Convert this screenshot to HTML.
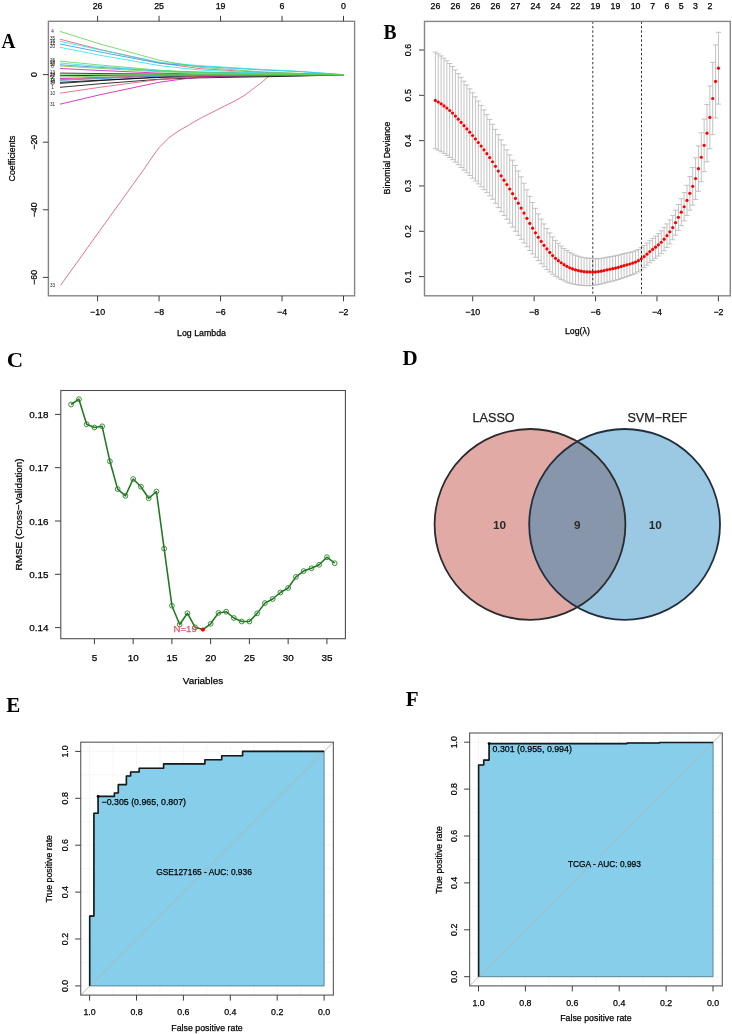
<!DOCTYPE html>
<html><head><meta charset="utf-8"><style>
html,body{margin:0;padding:0;background:#fff;}
body{width:732px;height:1034px;overflow:hidden;font-family:"Liberation Sans",sans-serif;}
svg{display:block;will-change:transform;}
</style></head><body>
<svg width="732" height="1034" viewBox="0 0 732 1034" font-family="Liberation Sans, sans-serif">
<rect width="732" height="1034" fill="#fff"/>
<text transform="translate(1.40 47.80) scale(0.92 1)" font-size="21" font-weight="bold" font-family="Liberation Serif" fill="#000">A</text>
<rect x="48.40" y="21.30" width="306.20" height="274.50" stroke="#858585" stroke-width="1.4" fill="none"/>
<line x1="97.58" y1="295.80" x2="97.58" y2="301.30" stroke="#3c3c3c" stroke-width="1"/>
<text x="97.58" y="312.00" font-size="8.8" text-anchor="middle" fill="#000" font-weight="normal" font-family="Liberation Sans" dominant-baseline="central" stroke="#000" stroke-width="0.25">−10</text>
<line x1="159.06" y1="295.80" x2="159.06" y2="301.30" stroke="#3c3c3c" stroke-width="1"/>
<text x="159.06" y="312.00" font-size="8.8" text-anchor="middle" fill="#000" font-weight="normal" font-family="Liberation Sans" dominant-baseline="central" stroke="#000" stroke-width="0.25">−8</text>
<line x1="220.54" y1="295.80" x2="220.54" y2="301.30" stroke="#3c3c3c" stroke-width="1"/>
<text x="220.54" y="312.00" font-size="8.8" text-anchor="middle" fill="#000" font-weight="normal" font-family="Liberation Sans" dominant-baseline="central" stroke="#000" stroke-width="0.25">−6</text>
<line x1="282.02" y1="295.80" x2="282.02" y2="301.30" stroke="#3c3c3c" stroke-width="1"/>
<text x="282.02" y="312.00" font-size="8.8" text-anchor="middle" fill="#000" font-weight="normal" font-family="Liberation Sans" dominant-baseline="central" stroke="#000" stroke-width="0.25">−4</text>
<line x1="343.50" y1="295.80" x2="343.50" y2="301.30" stroke="#3c3c3c" stroke-width="1"/>
<text x="343.50" y="312.00" font-size="8.8" text-anchor="middle" fill="#000" font-weight="normal" font-family="Liberation Sans" dominant-baseline="central" stroke="#000" stroke-width="0.25">−2</text>
<line x1="97.58" y1="21.30" x2="97.58" y2="15.80" stroke="#3c3c3c" stroke-width="1"/>
<text x="97.58" y="6.00" font-size="8.8" text-anchor="middle" fill="#000" font-weight="normal" font-family="Liberation Sans" dominant-baseline="central" stroke="#000" stroke-width="0.25">26</text>
<line x1="159.06" y1="21.30" x2="159.06" y2="15.80" stroke="#3c3c3c" stroke-width="1"/>
<text x="159.06" y="6.00" font-size="8.8" text-anchor="middle" fill="#000" font-weight="normal" font-family="Liberation Sans" dominant-baseline="central" stroke="#000" stroke-width="0.25">25</text>
<line x1="220.54" y1="21.30" x2="220.54" y2="15.80" stroke="#3c3c3c" stroke-width="1"/>
<text x="220.54" y="6.00" font-size="8.8" text-anchor="middle" fill="#000" font-weight="normal" font-family="Liberation Sans" dominant-baseline="central" stroke="#000" stroke-width="0.25">19</text>
<line x1="282.02" y1="21.30" x2="282.02" y2="15.80" stroke="#3c3c3c" stroke-width="1"/>
<text x="282.02" y="6.00" font-size="8.8" text-anchor="middle" fill="#000" font-weight="normal" font-family="Liberation Sans" dominant-baseline="central" stroke="#000" stroke-width="0.25">6</text>
<line x1="343.50" y1="21.30" x2="343.50" y2="15.80" stroke="#3c3c3c" stroke-width="1"/>
<text x="343.50" y="6.00" font-size="8.8" text-anchor="middle" fill="#000" font-weight="normal" font-family="Liberation Sans" dominant-baseline="central" stroke="#000" stroke-width="0.25">0</text>
<line x1="48.40" y1="74.60" x2="42.90" y2="74.60" stroke="#3c3c3c" stroke-width="1"/>
<text x="33.60" y="74.60" font-size="8.8" text-anchor="middle" fill="#000" font-weight="normal" font-family="Liberation Sans" dominant-baseline="central" stroke="#000" stroke-width="0.25" transform="rotate(-90 33.60 74.60)">0</text>
<line x1="48.40" y1="142.20" x2="42.90" y2="142.20" stroke="#3c3c3c" stroke-width="1"/>
<text x="33.60" y="142.20" font-size="8.8" text-anchor="middle" fill="#000" font-weight="normal" font-family="Liberation Sans" dominant-baseline="central" stroke="#000" stroke-width="0.25" transform="rotate(-90 33.60 142.20)">−20</text>
<line x1="48.40" y1="209.80" x2="42.90" y2="209.80" stroke="#3c3c3c" stroke-width="1"/>
<text x="33.60" y="209.80" font-size="8.8" text-anchor="middle" fill="#000" font-weight="normal" font-family="Liberation Sans" dominant-baseline="central" stroke="#000" stroke-width="0.25" transform="rotate(-90 33.60 209.80)">−40</text>
<line x1="48.40" y1="277.40" x2="42.90" y2="277.40" stroke="#3c3c3c" stroke-width="1"/>
<text x="33.60" y="277.40" font-size="8.8" text-anchor="middle" fill="#000" font-weight="normal" font-family="Liberation Sans" dominant-baseline="central" stroke="#000" stroke-width="0.25" transform="rotate(-90 33.60 277.40)">−60</text>
<text x="11.60" y="158.50" font-size="8.8" text-anchor="middle" fill="#000" font-weight="normal" font-family="Liberation Sans" dominant-baseline="central" stroke="#000" stroke-width="0.25" transform="rotate(-90 11.60 158.50)">Coefficients</text>
<text x="201.50" y="332.80" font-size="8.8" text-anchor="middle" fill="#000" font-weight="normal" font-family="Liberation Sans" dominant-baseline="central" stroke="#000" stroke-width="0.25">Log Lambda</text>
<polyline points="60.50,285.40 143.80,169.40 151.50,158.00 159.10,147.50 168.70,137.90 178.20,131.20 189.70,124.50 201.20,117.80 212.70,112.10 224.10,106.30 235.60,100.60 245.20,94.90 252.80,89.10 260.50,83.40 269.10,76.00 272.00,74.90 300.00,74.80" stroke="#DF536B" stroke-width="0.8" fill="none" stroke-linejoin="round"/>
<polyline points="60.00,73.10 100.00,73.56 160.00,74.17 200.00,74.43 260.00,74.59 300.00,74.65 343.50,74.70" stroke="#000000" stroke-width="0.8" fill="none" stroke-linejoin="round"/>
<polyline points="60.00,75.70 100.00,75.38 160.00,74.95 200.00,74.77 260.00,74.72 300.00,74.71 343.50,74.70" stroke="#000000" stroke-width="0.8" fill="none" stroke-linejoin="round"/>
<polyline points="60.00,82.30 100.00,80.17 160.00,77.44 200.00,76.60 260.00,75.99 300.00,75.54 343.50,74.70" stroke="#000000" stroke-width="0.8" fill="none" stroke-linejoin="round"/>
<polyline points="60.00,83.40 100.00,80.62 160.00,76.88 200.00,75.31 260.00,74.87 300.00,74.79 343.50,74.70" stroke="#000000" stroke-width="0.8" fill="none" stroke-linejoin="round"/>
<polyline points="60.00,87.30 100.00,83.77 160.00,79.24 200.00,77.85 260.00,76.84 300.00,76.09 343.50,74.70" stroke="#000000" stroke-width="0.8" fill="none" stroke-linejoin="round"/>
<polyline points="60.00,68.50 100.00,70.48 160.00,73.15 200.00,74.27 260.00,74.58 300.00,74.64 343.50,74.70" stroke="#CD0BBC" stroke-width="0.8" fill="none" stroke-linejoin="round"/>
<polyline points="60.00,78.60 100.00,77.35 160.00,75.67 200.00,74.97 260.00,74.78 300.00,74.74 343.50,74.70" stroke="#CD0BBC" stroke-width="0.8" fill="none" stroke-linejoin="round"/>
<polyline points="60.00,104.20 100.00,94.76 160.00,82.08 200.00,76.77 260.00,75.29 300.00,75.00 343.50,74.70" stroke="#CD0BBC" stroke-width="0.8" fill="none" stroke-linejoin="round"/>
<polyline points="60.00,39.20 100.00,49.50 160.00,62.98 200.00,68.67 260.00,72.22 300.00,73.64 343.50,74.70" stroke="#DF536B" stroke-width="0.8" fill="none" stroke-linejoin="round"/>
<polyline points="60.00,79.60 100.00,78.03 160.00,75.92 200.00,75.04 260.00,74.80 300.00,74.75 343.50,74.70" stroke="#DF536B" stroke-width="0.8" fill="none" stroke-linejoin="round"/>
<polyline points="60.00,93.20 100.00,87.28 160.00,79.33 200.00,76.00 260.00,75.07 300.00,74.89 343.50,74.70" stroke="#DF536B" stroke-width="0.8" fill="none" stroke-linejoin="round"/>
<polyline points="60.00,44.00 100.00,51.98 160.00,63.34 200.00,66.41 260.00,69.79 300.00,71.63 343.50,74.70" stroke="#2297E6" stroke-width="0.8" fill="none" stroke-linejoin="round"/>
<polyline points="60.00,64.80 100.00,67.37 160.00,71.04 200.00,72.03 260.00,73.12 300.00,73.71 343.50,74.70" stroke="#2297E6" stroke-width="0.8" fill="none" stroke-linejoin="round"/>
<polyline points="60.00,80.40 100.00,78.58 160.00,76.12 200.00,75.10 260.00,74.81 300.00,74.76 343.50,74.70" stroke="#2297E6" stroke-width="0.8" fill="none" stroke-linejoin="round"/>
<polyline points="60.00,41.20 100.00,49.91 160.00,62.31 200.00,65.66 260.00,69.34 300.00,71.35 343.50,74.70" stroke="#28E2E5" stroke-width="0.8" fill="none" stroke-linejoin="round"/>
<polyline points="60.00,47.30 100.00,55.25 160.00,65.66 200.00,70.04 260.00,72.78 300.00,73.88 343.50,74.70" stroke="#28E2E5" stroke-width="0.8" fill="none" stroke-linejoin="round"/>
<polyline points="60.00,63.00 100.00,66.39 160.00,70.84 200.00,72.71 260.00,73.88 300.00,74.35 343.50,74.70" stroke="#28E2E5" stroke-width="0.8" fill="none" stroke-linejoin="round"/>
<polyline points="60.00,31.40 100.00,43.96 160.00,60.41 200.00,67.34 260.00,71.67 300.00,73.40 343.50,74.70" stroke="#61D04F" stroke-width="0.8" fill="none" stroke-linejoin="round"/>
<polyline points="60.00,61.10 100.00,65.04 160.00,70.21 200.00,72.39 260.00,73.75 300.00,74.29 343.50,74.70" stroke="#61D04F" stroke-width="0.8" fill="none" stroke-linejoin="round"/>
<polyline points="60.00,65.90 100.00,68.45 160.00,71.80 200.00,73.20 260.00,74.08 300.00,74.44 343.50,74.70" stroke="#61D04F" stroke-width="0.8" fill="none" stroke-linejoin="round"/>
<polyline points="60.00,74.20 100.00,74.34 160.00,74.53 200.00,74.62 260.00,74.67 300.00,74.69 343.50,74.70" stroke="#61D04F" stroke-width="0.8" fill="none" stroke-linejoin="round"/>
<polyline points="60.00,77.00 100.00,76.26 160.00,75.28 200.00,74.86 260.00,74.75 300.00,74.72 343.50,74.70" stroke="#61D04F" stroke-width="0.8" fill="none" stroke-linejoin="round"/>
<text x="52.60" y="31.40" font-size="4.6" text-anchor="middle" fill="#222" font-weight="normal" font-family="Liberation Sans" dominant-baseline="central">4</text>
<text x="52.60" y="38.50" font-size="4.6" text-anchor="middle" fill="#222" font-weight="normal" font-family="Liberation Sans" dominant-baseline="central">35</text>
<text x="52.60" y="41.00" font-size="4.6" text-anchor="middle" fill="#222" font-weight="normal" font-family="Liberation Sans" dominant-baseline="central">16</text>
<text x="52.60" y="43.50" font-size="4.6" text-anchor="middle" fill="#222" font-weight="normal" font-family="Liberation Sans" dominant-baseline="central">12</text>
<text x="52.60" y="46.50" font-size="4.6" text-anchor="middle" fill="#222" font-weight="normal" font-family="Liberation Sans" dominant-baseline="central">20</text>
<text x="52.60" y="60.50" font-size="4.6" text-anchor="middle" fill="#222" font-weight="normal" font-family="Liberation Sans" dominant-baseline="central">26</text>
<text x="52.60" y="62.50" font-size="4.6" text-anchor="middle" fill="#222" font-weight="normal" font-family="Liberation Sans" dominant-baseline="central">28</text>
<text x="52.60" y="64.50" font-size="4.6" text-anchor="middle" fill="#222" font-weight="normal" font-family="Liberation Sans" dominant-baseline="central">30</text>
<text x="52.60" y="66.50" font-size="4.6" text-anchor="middle" fill="#222" font-weight="normal" font-family="Liberation Sans" dominant-baseline="central">8</text>
<text x="52.60" y="72.50" font-size="4.6" text-anchor="middle" fill="#222" font-weight="normal" font-family="Liberation Sans" dominant-baseline="central">13</text>
<text x="52.60" y="74.00" font-size="4.6" text-anchor="middle" fill="#222" font-weight="normal" font-family="Liberation Sans" dominant-baseline="central">24</text>
<text x="52.60" y="75.50" font-size="4.6" text-anchor="middle" fill="#222" font-weight="normal" font-family="Liberation Sans" dominant-baseline="central">22</text>
<text x="52.60" y="77.00" font-size="4.6" text-anchor="middle" fill="#222" font-weight="normal" font-family="Liberation Sans" dominant-baseline="central">2</text>
<text x="52.60" y="79.00" font-size="4.6" text-anchor="middle" fill="#222" font-weight="normal" font-family="Liberation Sans" dominant-baseline="central">6</text>
<text x="52.60" y="80.50" font-size="4.6" text-anchor="middle" fill="#222" font-weight="normal" font-family="Liberation Sans" dominant-baseline="central">14</text>
<text x="52.60" y="82.00" font-size="4.6" text-anchor="middle" fill="#222" font-weight="normal" font-family="Liberation Sans" dominant-baseline="central">34</text>
<text x="52.60" y="83.50" font-size="4.6" text-anchor="middle" fill="#222" font-weight="normal" font-family="Liberation Sans" dominant-baseline="central">5</text>
<text x="52.60" y="87.30" font-size="4.6" text-anchor="middle" fill="#222" font-weight="normal" font-family="Liberation Sans" dominant-baseline="central">1</text>
<text x="52.60" y="93.20" font-size="4.6" text-anchor="middle" fill="#222" font-weight="normal" font-family="Liberation Sans" dominant-baseline="central">10</text>
<text x="52.60" y="104.20" font-size="4.6" text-anchor="middle" fill="#222" font-weight="normal" font-family="Liberation Sans" dominant-baseline="central">31</text>
<text x="52.60" y="285.40" font-size="4.6" text-anchor="middle" fill="#222" font-weight="normal" font-family="Liberation Sans" dominant-baseline="central">33</text>
<text transform="translate(383.60 38.50) scale(0.93 1)" font-size="21" font-weight="bold" font-family="Liberation Serif" fill="#000">B</text>
<line x1="472.72" y1="295.80" x2="472.72" y2="301.30" stroke="#3c3c3c" stroke-width="1"/>
<text x="472.72" y="311.80" font-size="8.8" text-anchor="middle" fill="#000" font-weight="normal" font-family="Liberation Sans" dominant-baseline="central" stroke="#000" stroke-width="0.25">−10</text>
<line x1="534.14" y1="295.80" x2="534.14" y2="301.30" stroke="#3c3c3c" stroke-width="1"/>
<text x="534.14" y="311.80" font-size="8.8" text-anchor="middle" fill="#000" font-weight="normal" font-family="Liberation Sans" dominant-baseline="central" stroke="#000" stroke-width="0.25">−8</text>
<line x1="595.56" y1="295.80" x2="595.56" y2="301.30" stroke="#3c3c3c" stroke-width="1"/>
<text x="595.56" y="311.80" font-size="8.8" text-anchor="middle" fill="#000" font-weight="normal" font-family="Liberation Sans" dominant-baseline="central" stroke="#000" stroke-width="0.25">−6</text>
<line x1="656.98" y1="295.80" x2="656.98" y2="301.30" stroke="#3c3c3c" stroke-width="1"/>
<text x="656.98" y="311.80" font-size="8.8" text-anchor="middle" fill="#000" font-weight="normal" font-family="Liberation Sans" dominant-baseline="central" stroke="#000" stroke-width="0.25">−4</text>
<line x1="718.40" y1="295.80" x2="718.40" y2="301.30" stroke="#3c3c3c" stroke-width="1"/>
<text x="718.40" y="311.80" font-size="8.8" text-anchor="middle" fill="#000" font-weight="normal" font-family="Liberation Sans" dominant-baseline="central" stroke="#000" stroke-width="0.25">−2</text>
<line x1="424.50" y1="276.60" x2="419.00" y2="276.60" stroke="#3c3c3c" stroke-width="1"/>
<text x="408.00" y="276.60" font-size="8.8" text-anchor="middle" fill="#000" font-weight="normal" font-family="Liberation Sans" dominant-baseline="central" stroke="#000" stroke-width="0.25" transform="rotate(-90 408.00 276.60)">0.1</text>
<line x1="424.50" y1="231.28" x2="419.00" y2="231.28" stroke="#3c3c3c" stroke-width="1"/>
<text x="408.00" y="231.28" font-size="8.8" text-anchor="middle" fill="#000" font-weight="normal" font-family="Liberation Sans" dominant-baseline="central" stroke="#000" stroke-width="0.25" transform="rotate(-90 408.00 231.28)">0.2</text>
<line x1="424.50" y1="185.96" x2="419.00" y2="185.96" stroke="#3c3c3c" stroke-width="1"/>
<text x="408.00" y="185.96" font-size="8.8" text-anchor="middle" fill="#000" font-weight="normal" font-family="Liberation Sans" dominant-baseline="central" stroke="#000" stroke-width="0.25" transform="rotate(-90 408.00 185.96)">0.3</text>
<line x1="424.50" y1="140.64" x2="419.00" y2="140.64" stroke="#3c3c3c" stroke-width="1"/>
<text x="408.00" y="140.64" font-size="8.8" text-anchor="middle" fill="#000" font-weight="normal" font-family="Liberation Sans" dominant-baseline="central" stroke="#000" stroke-width="0.25" transform="rotate(-90 408.00 140.64)">0.4</text>
<line x1="424.50" y1="95.32" x2="419.00" y2="95.32" stroke="#3c3c3c" stroke-width="1"/>
<text x="408.00" y="95.32" font-size="8.8" text-anchor="middle" fill="#000" font-weight="normal" font-family="Liberation Sans" dominant-baseline="central" stroke="#000" stroke-width="0.25" transform="rotate(-90 408.00 95.32)">0.5</text>
<line x1="424.50" y1="50.00" x2="419.00" y2="50.00" stroke="#3c3c3c" stroke-width="1"/>
<text x="408.00" y="50.00" font-size="8.8" text-anchor="middle" fill="#000" font-weight="normal" font-family="Liberation Sans" dominant-baseline="central" stroke="#000" stroke-width="0.25" transform="rotate(-90 408.00 50.00)">0.6</text>
<text x="386.60" y="158.00" font-size="8.8" text-anchor="middle" fill="#000" font-weight="normal" font-family="Liberation Sans" dominant-baseline="central" stroke="#000" stroke-width="0.25" transform="rotate(-90 386.60 158.00)">Binomial Deviance</text>
<text x="577.40" y="330.70" font-size="8.8" text-anchor="middle" fill="#000" font-weight="normal" font-family="Liberation Sans" dominant-baseline="central" stroke="#000" stroke-width="0.25">Log(λ)</text>
<text x="435.40" y="6.20" font-size="8.8" text-anchor="middle" fill="#000" font-weight="normal" font-family="Liberation Sans" dominant-baseline="central" stroke="#000" stroke-width="0.25">26</text>
<text x="455.41" y="6.20" font-size="8.8" text-anchor="middle" fill="#000" font-weight="normal" font-family="Liberation Sans" dominant-baseline="central" stroke="#000" stroke-width="0.25">26</text>
<text x="475.43" y="6.20" font-size="8.8" text-anchor="middle" fill="#000" font-weight="normal" font-family="Liberation Sans" dominant-baseline="central" stroke="#000" stroke-width="0.25">26</text>
<text x="495.44" y="6.20" font-size="8.8" text-anchor="middle" fill="#000" font-weight="normal" font-family="Liberation Sans" dominant-baseline="central" stroke="#000" stroke-width="0.25">26</text>
<text x="515.45" y="6.20" font-size="8.8" text-anchor="middle" fill="#000" font-weight="normal" font-family="Liberation Sans" dominant-baseline="central" stroke="#000" stroke-width="0.25">27</text>
<text x="535.46" y="6.20" font-size="8.8" text-anchor="middle" fill="#000" font-weight="normal" font-family="Liberation Sans" dominant-baseline="central" stroke="#000" stroke-width="0.25">24</text>
<text x="555.48" y="6.20" font-size="8.8" text-anchor="middle" fill="#000" font-weight="normal" font-family="Liberation Sans" dominant-baseline="central" stroke="#000" stroke-width="0.25">24</text>
<text x="575.49" y="6.20" font-size="8.8" text-anchor="middle" fill="#000" font-weight="normal" font-family="Liberation Sans" dominant-baseline="central" stroke="#000" stroke-width="0.25">22</text>
<text x="595.50" y="6.20" font-size="8.8" text-anchor="middle" fill="#000" font-weight="normal" font-family="Liberation Sans" dominant-baseline="central" stroke="#000" stroke-width="0.25">19</text>
<text x="615.52" y="6.20" font-size="8.8" text-anchor="middle" fill="#000" font-weight="normal" font-family="Liberation Sans" dominant-baseline="central" stroke="#000" stroke-width="0.25">19</text>
<text x="635.53" y="6.20" font-size="8.8" text-anchor="middle" fill="#000" font-weight="normal" font-family="Liberation Sans" dominant-baseline="central" stroke="#000" stroke-width="0.25">10</text>
<text x="652.68" y="6.20" font-size="8.8" text-anchor="middle" fill="#000" font-weight="normal" font-family="Liberation Sans" dominant-baseline="central" stroke="#000" stroke-width="0.25">7</text>
<text x="666.98" y="6.20" font-size="8.8" text-anchor="middle" fill="#000" font-weight="normal" font-family="Liberation Sans" dominant-baseline="central" stroke="#000" stroke-width="0.25">6</text>
<text x="681.27" y="6.20" font-size="8.8" text-anchor="middle" fill="#000" font-weight="normal" font-family="Liberation Sans" dominant-baseline="central" stroke="#000" stroke-width="0.25">5</text>
<text x="695.57" y="6.20" font-size="8.8" text-anchor="middle" fill="#000" font-weight="normal" font-family="Liberation Sans" dominant-baseline="central" stroke="#000" stroke-width="0.25">3</text>
<text x="709.86" y="6.20" font-size="8.8" text-anchor="middle" fill="#000" font-weight="normal" font-family="Liberation Sans" dominant-baseline="central" stroke="#000" stroke-width="0.25">2</text>
<path d="M435.40 52.05V148.75M432.80 52.05h5.2M432.80 148.75h5.2M438.26 53.86V150.19M435.66 53.86h5.2M435.66 150.19h5.2M441.12 55.94V151.79M438.52 55.94h5.2M438.52 151.79h5.2M443.98 58.26V153.55M441.38 58.26h5.2M441.38 153.55h5.2M446.84 60.79V155.45M444.24 60.79h5.2M444.24 155.45h5.2M449.69 63.49V157.47M447.09 63.49h5.2M447.09 157.47h5.2M452.55 66.53V159.70M449.95 66.53h5.2M449.95 159.70h5.2M455.41 69.95V162.18M452.81 69.95h5.2M452.81 162.18h5.2M458.27 73.63V164.81M455.67 73.63h5.2M455.67 164.81h5.2M461.13 77.43V167.51M458.53 77.43h5.2M458.53 167.51h5.2M463.99 81.22V170.18M461.39 81.22h5.2M461.39 170.18h5.2M466.85 84.99V172.84M464.25 84.99h5.2M464.25 172.84h5.2M469.71 88.83V175.53M467.11 88.83h5.2M467.11 175.53h5.2M472.57 92.77V178.27M469.97 92.77h5.2M469.97 178.27h5.2M475.43 96.83V181.07M472.83 96.83h5.2M472.83 181.07h5.2M478.28 101.03V183.93M475.68 101.03h5.2M475.68 183.93h5.2M481.14 105.40V186.80M478.54 105.40h5.2M478.54 186.80h5.2M484.00 109.94V189.67M481.40 109.94h5.2M481.40 189.67h5.2M486.86 114.63V192.64M484.26 114.63h5.2M484.26 192.64h5.2M489.72 119.41V195.80M487.12 119.41h5.2M487.12 195.80h5.2M492.58 124.27V199.27M489.98 124.27h5.2M489.98 199.27h5.2M495.44 129.34V203.27M492.84 129.34h5.2M492.84 203.27h5.2M498.30 134.63V207.60M495.70 134.63h5.2M495.70 207.60h5.2M501.16 139.84V211.78M498.56 139.84h5.2M498.56 211.78h5.2M504.02 144.86V215.58M501.42 144.86h5.2M501.42 215.58h5.2M506.88 149.85V219.27M504.27 149.85h5.2M504.27 219.27h5.2M509.73 154.95V223.07M507.13 154.95h5.2M507.13 223.07h5.2M512.59 160.18V227.11M509.99 160.18h5.2M509.99 227.11h5.2M515.45 165.49V231.26M512.85 165.49h5.2M512.85 231.26h5.2M518.31 170.99V235.39M515.71 170.99h5.2M515.71 235.39h5.2M521.17 176.85V239.28M518.57 176.85h5.2M518.57 239.28h5.2M524.03 183.22V243.00M521.43 183.22h5.2M521.43 243.00h5.2M526.89 189.81V246.76M524.29 189.81h5.2M524.29 246.76h5.2M529.75 196.25V250.52M527.15 196.25h5.2M527.15 250.52h5.2M532.61 202.44V253.97M530.01 202.44h5.2M530.01 253.97h5.2M535.46 208.33V257.26M532.86 208.33h5.2M532.86 257.26h5.2M538.32 213.89V260.58M535.72 213.89h5.2M535.72 260.58h5.2M541.18 219.09V263.79M538.58 219.09h5.2M538.58 263.79h5.2M544.04 223.92V266.73M541.44 223.92h5.2M541.44 266.73h5.2M546.90 228.50V269.44M544.30 228.50h5.2M544.30 269.44h5.2M549.76 232.91V271.97M547.16 232.91h5.2M547.16 271.97h5.2M552.62 236.94V274.26M550.02 236.94h5.2M550.02 274.26h5.2M555.48 240.37V276.26M552.88 240.37h5.2M552.88 276.26h5.2M558.34 243.32V277.96M555.74 243.32h5.2M555.74 277.96h5.2M561.20 246.01V279.54M558.60 246.01h5.2M558.60 279.54h5.2M564.05 248.42V280.96M561.45 248.42h5.2M561.45 280.96h5.2M566.91 250.53V282.18M564.31 250.53h5.2M564.31 282.18h5.2M569.77 252.32V283.15M567.17 252.32h5.2M567.17 283.15h5.2M572.63 253.85V283.93M570.03 253.85h5.2M570.03 283.93h5.2M575.49 255.18V284.53M572.89 255.18h5.2M572.89 284.53h5.2M578.35 256.23V284.95M575.75 256.23h5.2M575.75 284.95h5.2M581.21 257.05V285.29M578.61 257.05h5.2M578.61 285.29h5.2M584.07 257.69V285.59M581.47 257.69h5.2M581.47 285.59h5.2M586.93 258.09V285.70M584.33 258.09h5.2M584.33 285.70h5.2M589.79 258.30V285.63M587.19 258.30h5.2M587.19 285.63h5.2M592.64 258.53V285.47M590.04 258.53h5.2M590.04 285.47h5.2M595.50 258.72V285.08M592.90 258.72h5.2M592.90 285.08h5.2M598.36 258.66V284.49M595.76 258.66h5.2M595.76 284.49h5.2M601.22 258.38V283.95M598.62 258.38h5.2M598.62 283.95h5.2M604.08 257.86V283.26M601.48 257.86h5.2M601.48 283.26h5.2M606.94 257.25V282.47M604.34 257.25h5.2M604.34 282.47h5.2M609.80 256.77V281.76M607.20 256.77h5.2M607.20 281.76h5.2M612.66 256.32V281.07M610.06 256.32h5.2M610.06 281.07h5.2M615.52 255.81V280.33M612.92 255.81h5.2M612.92 280.33h5.2M618.38 255.13V279.49M615.78 255.13h5.2M615.78 279.49h5.2M621.24 254.35V278.56M618.63 254.35h5.2M618.63 278.56h5.2M624.09 253.58V277.60M621.49 253.58h5.2M621.49 277.60h5.2M626.95 252.96V276.62M624.35 252.96h5.2M624.35 276.62h5.2M629.81 252.43V275.57M627.21 252.43h5.2M627.21 275.57h5.2M632.67 251.75V274.48M630.07 251.75h5.2M630.07 274.48h5.2M635.53 250.79V273.29M632.93 250.79h5.2M632.93 273.29h5.2M638.39 249.56V271.86M635.79 249.56h5.2M635.79 271.86h5.2M641.25 247.73V269.89M638.65 247.73h5.2M638.65 269.89h5.2M644.11 245.54V267.64M641.51 245.54h5.2M641.51 267.64h5.2M646.97 243.12V265.22M644.37 243.12h5.2M644.37 265.22h5.2M649.83 240.66V262.76M647.23 240.66h5.2M647.23 262.76h5.2M652.68 238.40V260.50M650.08 238.40h5.2M650.08 260.50h5.2M655.54 236.11V258.32M652.94 236.11h5.2M652.94 258.32h5.2M658.40 233.59V256.07M655.80 233.59h5.2M655.80 256.07h5.2M661.26 230.84V253.63M658.66 230.84h5.2M658.66 253.63h5.2M664.12 227.59V250.76M661.52 227.59h5.2M661.52 250.76h5.2M666.98 223.88V247.48M664.38 223.88h5.2M664.38 247.48h5.2M669.84 219.88V243.82M667.24 219.88h5.2M667.24 243.82h5.2M672.70 215.41V239.75M670.10 215.41h5.2M670.10 239.75h5.2M675.56 210.18V235.16M672.96 210.18h5.2M672.96 235.16h5.2M678.41 204.45V230.30M675.81 204.45h5.2M675.81 230.30h5.2M681.27 198.78V225.66M678.67 198.78h5.2M678.67 225.66h5.2M684.13 192.67V220.85M681.53 192.67h5.2M681.53 220.85h5.2M686.99 185.27V215.49M684.39 185.27h5.2M684.39 215.49h5.2M689.85 176.57V210.17M687.25 176.57h5.2M687.25 210.17h5.2M692.71 167.52V205.21M690.11 167.52h5.2M690.11 205.21h5.2M695.57 157.75V199.46M692.97 157.75h5.2M692.97 199.46h5.2M698.43 145.96V191.31M695.83 145.96h5.2M695.83 191.31h5.2M701.29 132.76V181.74M698.69 132.76h5.2M698.69 181.74h5.2M704.15 119.06V171.64M701.55 119.06h5.2M701.55 171.64h5.2M707.00 104.55V161.83M704.40 104.55h5.2M704.40 161.83h5.2M709.86 86.04V148.84M707.26 86.04h5.2M707.26 148.84h5.2M712.72 62.40V134.65M710.12 62.40h5.2M710.12 134.65h5.2M715.58 44.91V117.91M712.98 44.91h5.2M712.98 117.91h5.2M718.44 32.30V104.11M715.84 32.30h5.2M715.84 104.11h5.2" stroke="#b4b4b4" stroke-width="0.8" fill="none"/>
<circle cx="435.40" cy="100.40" r="1.6" fill="#ff0000"/>
<circle cx="438.26" cy="102.02" r="1.6" fill="#ff0000"/>
<circle cx="441.12" cy="103.87" r="1.6" fill="#ff0000"/>
<circle cx="443.98" cy="105.91" r="1.6" fill="#ff0000"/>
<circle cx="446.84" cy="108.12" r="1.6" fill="#ff0000"/>
<circle cx="449.69" cy="110.48" r="1.6" fill="#ff0000"/>
<circle cx="452.55" cy="113.11" r="1.6" fill="#ff0000"/>
<circle cx="455.41" cy="116.06" r="1.6" fill="#ff0000"/>
<circle cx="458.27" cy="119.22" r="1.6" fill="#ff0000"/>
<circle cx="461.13" cy="122.47" r="1.6" fill="#ff0000"/>
<circle cx="463.99" cy="125.70" r="1.6" fill="#ff0000"/>
<circle cx="466.85" cy="128.91" r="1.6" fill="#ff0000"/>
<circle cx="469.71" cy="132.18" r="1.6" fill="#ff0000"/>
<circle cx="472.57" cy="135.52" r="1.6" fill="#ff0000"/>
<circle cx="475.43" cy="138.95" r="1.6" fill="#ff0000"/>
<circle cx="478.28" cy="142.48" r="1.6" fill="#ff0000"/>
<circle cx="481.14" cy="146.10" r="1.6" fill="#ff0000"/>
<circle cx="484.00" cy="149.81" r="1.6" fill="#ff0000"/>
<circle cx="486.86" cy="153.63" r="1.6" fill="#ff0000"/>
<circle cx="489.72" cy="157.61" r="1.6" fill="#ff0000"/>
<circle cx="492.58" cy="161.77" r="1.6" fill="#ff0000"/>
<circle cx="495.44" cy="166.30" r="1.6" fill="#ff0000"/>
<circle cx="498.30" cy="171.12" r="1.6" fill="#ff0000"/>
<circle cx="501.16" cy="175.81" r="1.6" fill="#ff0000"/>
<circle cx="504.02" cy="180.22" r="1.6" fill="#ff0000"/>
<circle cx="506.88" cy="184.56" r="1.6" fill="#ff0000"/>
<circle cx="509.73" cy="189.01" r="1.6" fill="#ff0000"/>
<circle cx="512.59" cy="193.64" r="1.6" fill="#ff0000"/>
<circle cx="515.45" cy="198.38" r="1.6" fill="#ff0000"/>
<circle cx="518.31" cy="203.19" r="1.6" fill="#ff0000"/>
<circle cx="521.17" cy="208.06" r="1.6" fill="#ff0000"/>
<circle cx="524.03" cy="213.11" r="1.6" fill="#ff0000"/>
<circle cx="526.89" cy="218.29" r="1.6" fill="#ff0000"/>
<circle cx="529.75" cy="223.38" r="1.6" fill="#ff0000"/>
<circle cx="532.61" cy="228.21" r="1.6" fill="#ff0000"/>
<circle cx="535.46" cy="232.79" r="1.6" fill="#ff0000"/>
<circle cx="538.32" cy="237.23" r="1.6" fill="#ff0000"/>
<circle cx="541.18" cy="241.44" r="1.6" fill="#ff0000"/>
<circle cx="544.04" cy="245.33" r="1.6" fill="#ff0000"/>
<circle cx="546.90" cy="248.97" r="1.6" fill="#ff0000"/>
<circle cx="549.76" cy="252.44" r="1.6" fill="#ff0000"/>
<circle cx="552.62" cy="255.60" r="1.6" fill="#ff0000"/>
<circle cx="555.48" cy="258.31" r="1.6" fill="#ff0000"/>
<circle cx="558.34" cy="260.64" r="1.6" fill="#ff0000"/>
<circle cx="561.20" cy="262.77" r="1.6" fill="#ff0000"/>
<circle cx="564.05" cy="264.69" r="1.6" fill="#ff0000"/>
<circle cx="566.91" cy="266.35" r="1.6" fill="#ff0000"/>
<circle cx="569.77" cy="267.73" r="1.6" fill="#ff0000"/>
<circle cx="572.63" cy="268.89" r="1.6" fill="#ff0000"/>
<circle cx="575.49" cy="269.86" r="1.6" fill="#ff0000"/>
<circle cx="578.35" cy="270.59" r="1.6" fill="#ff0000"/>
<circle cx="581.21" cy="271.17" r="1.6" fill="#ff0000"/>
<circle cx="584.07" cy="271.64" r="1.6" fill="#ff0000"/>
<circle cx="586.93" cy="271.89" r="1.6" fill="#ff0000"/>
<circle cx="589.79" cy="271.96" r="1.6" fill="#ff0000"/>
<circle cx="592.64" cy="272.00" r="1.6" fill="#ff0000"/>
<circle cx="595.50" cy="271.90" r="1.6" fill="#ff0000"/>
<circle cx="598.36" cy="271.58" r="1.6" fill="#ff0000"/>
<circle cx="601.22" cy="271.17" r="1.6" fill="#ff0000"/>
<circle cx="604.08" cy="270.56" r="1.6" fill="#ff0000"/>
<circle cx="606.94" cy="269.86" r="1.6" fill="#ff0000"/>
<circle cx="609.80" cy="269.26" r="1.6" fill="#ff0000"/>
<circle cx="612.66" cy="268.69" r="1.6" fill="#ff0000"/>
<circle cx="615.52" cy="268.07" r="1.6" fill="#ff0000"/>
<circle cx="618.38" cy="267.31" r="1.6" fill="#ff0000"/>
<circle cx="621.24" cy="266.45" r="1.6" fill="#ff0000"/>
<circle cx="624.09" cy="265.59" r="1.6" fill="#ff0000"/>
<circle cx="626.95" cy="264.79" r="1.6" fill="#ff0000"/>
<circle cx="629.81" cy="264.00" r="1.6" fill="#ff0000"/>
<circle cx="632.67" cy="263.11" r="1.6" fill="#ff0000"/>
<circle cx="635.53" cy="262.04" r="1.6" fill="#ff0000"/>
<circle cx="638.39" cy="260.71" r="1.6" fill="#ff0000"/>
<circle cx="641.25" cy="258.81" r="1.6" fill="#ff0000"/>
<circle cx="644.11" cy="256.59" r="1.6" fill="#ff0000"/>
<circle cx="646.97" cy="254.17" r="1.6" fill="#ff0000"/>
<circle cx="649.83" cy="251.71" r="1.6" fill="#ff0000"/>
<circle cx="652.68" cy="249.45" r="1.6" fill="#ff0000"/>
<circle cx="655.54" cy="247.21" r="1.6" fill="#ff0000"/>
<circle cx="658.40" cy="244.83" r="1.6" fill="#ff0000"/>
<circle cx="661.26" cy="242.24" r="1.6" fill="#ff0000"/>
<circle cx="664.12" cy="239.17" r="1.6" fill="#ff0000"/>
<circle cx="666.98" cy="235.68" r="1.6" fill="#ff0000"/>
<circle cx="669.84" cy="231.85" r="1.6" fill="#ff0000"/>
<circle cx="672.70" cy="227.58" r="1.6" fill="#ff0000"/>
<circle cx="675.56" cy="222.67" r="1.6" fill="#ff0000"/>
<circle cx="678.41" cy="217.37" r="1.6" fill="#ff0000"/>
<circle cx="681.27" cy="212.22" r="1.6" fill="#ff0000"/>
<circle cx="684.13" cy="206.76" r="1.6" fill="#ff0000"/>
<circle cx="686.99" cy="200.38" r="1.6" fill="#ff0000"/>
<circle cx="689.85" cy="193.37" r="1.6" fill="#ff0000"/>
<circle cx="692.71" cy="186.37" r="1.6" fill="#ff0000"/>
<circle cx="695.57" cy="178.60" r="1.6" fill="#ff0000"/>
<circle cx="698.43" cy="168.64" r="1.6" fill="#ff0000"/>
<circle cx="701.29" cy="157.25" r="1.6" fill="#ff0000"/>
<circle cx="704.15" cy="145.35" r="1.6" fill="#ff0000"/>
<circle cx="707.00" cy="133.19" r="1.6" fill="#ff0000"/>
<circle cx="709.86" cy="117.44" r="1.6" fill="#ff0000"/>
<circle cx="712.72" cy="98.52" r="1.6" fill="#ff0000"/>
<circle cx="715.58" cy="81.41" r="1.6" fill="#ff0000"/>
<circle cx="718.44" cy="68.21" r="1.6" fill="#ff0000"/>
<line x1="592.80" y1="21.40" x2="592.80" y2="295.80" stroke="#000" stroke-width="0.8" stroke-dasharray="2.4,2.1"/>
<line x1="641.50" y1="21.40" x2="641.50" y2="295.80" stroke="#000" stroke-width="0.8" stroke-dasharray="2.4,2.1"/>
<rect x="424.50" y="21.40" width="305.80" height="274.40" stroke="#858585" stroke-width="1.4" fill="none"/>
<text transform="translate(6.70 366.60) scale(1.08 1)" font-size="21" font-weight="bold" font-family="Liberation Serif" fill="#000">C</text>
<rect x="60.80" y="390.50" width="284.60" height="248.20" stroke="#505050" stroke-width="1.1" fill="none"/>
<line x1="94.40" y1="638.70" x2="94.40" y2="644.20" stroke="#3c3c3c" stroke-width="1"/>
<text x="94.40" y="657.50" font-size="9.9" text-anchor="middle" fill="#000" font-weight="normal" font-family="Liberation Sans" dominant-baseline="central" stroke="#000" stroke-width="0.25">5</text>
<line x1="133.15" y1="638.70" x2="133.15" y2="644.20" stroke="#3c3c3c" stroke-width="1"/>
<text x="133.15" y="657.50" font-size="9.9" text-anchor="middle" fill="#000" font-weight="normal" font-family="Liberation Sans" dominant-baseline="central" stroke="#000" stroke-width="0.25">10</text>
<line x1="171.90" y1="638.70" x2="171.90" y2="644.20" stroke="#3c3c3c" stroke-width="1"/>
<text x="171.90" y="657.50" font-size="9.9" text-anchor="middle" fill="#000" font-weight="normal" font-family="Liberation Sans" dominant-baseline="central" stroke="#000" stroke-width="0.25">15</text>
<line x1="210.65" y1="638.70" x2="210.65" y2="644.20" stroke="#3c3c3c" stroke-width="1"/>
<text x="210.65" y="657.50" font-size="9.9" text-anchor="middle" fill="#000" font-weight="normal" font-family="Liberation Sans" dominant-baseline="central" stroke="#000" stroke-width="0.25">20</text>
<line x1="249.40" y1="638.70" x2="249.40" y2="644.20" stroke="#3c3c3c" stroke-width="1"/>
<text x="249.40" y="657.50" font-size="9.9" text-anchor="middle" fill="#000" font-weight="normal" font-family="Liberation Sans" dominant-baseline="central" stroke="#000" stroke-width="0.25">25</text>
<line x1="288.15" y1="638.70" x2="288.15" y2="644.20" stroke="#3c3c3c" stroke-width="1"/>
<text x="288.15" y="657.50" font-size="9.9" text-anchor="middle" fill="#000" font-weight="normal" font-family="Liberation Sans" dominant-baseline="central" stroke="#000" stroke-width="0.25">30</text>
<line x1="326.90" y1="638.70" x2="326.90" y2="644.20" stroke="#3c3c3c" stroke-width="1"/>
<text x="326.90" y="657.50" font-size="9.9" text-anchor="middle" fill="#000" font-weight="normal" font-family="Liberation Sans" dominant-baseline="central" stroke="#000" stroke-width="0.25">35</text>
<line x1="60.80" y1="627.60" x2="55.00" y2="627.60" stroke="#3c3c3c" stroke-width="1"/>
<text x="48.50" y="627.60" font-size="9.9" text-anchor="end" fill="#000" font-weight="normal" font-family="Liberation Sans" dominant-baseline="central" stroke="#000" stroke-width="0.25">0.14</text>
<line x1="60.80" y1="574.30" x2="55.00" y2="574.30" stroke="#3c3c3c" stroke-width="1"/>
<text x="48.50" y="574.30" font-size="9.9" text-anchor="end" fill="#000" font-weight="normal" font-family="Liberation Sans" dominant-baseline="central" stroke="#000" stroke-width="0.25">0.15</text>
<line x1="60.80" y1="521.00" x2="55.00" y2="521.00" stroke="#3c3c3c" stroke-width="1"/>
<text x="48.50" y="521.00" font-size="9.9" text-anchor="end" fill="#000" font-weight="normal" font-family="Liberation Sans" dominant-baseline="central" stroke="#000" stroke-width="0.25">0.16</text>
<line x1="60.80" y1="467.70" x2="55.00" y2="467.70" stroke="#3c3c3c" stroke-width="1"/>
<text x="48.50" y="467.70" font-size="9.9" text-anchor="end" fill="#000" font-weight="normal" font-family="Liberation Sans" dominant-baseline="central" stroke="#000" stroke-width="0.25">0.17</text>
<line x1="60.80" y1="414.40" x2="55.00" y2="414.40" stroke="#3c3c3c" stroke-width="1"/>
<text x="48.50" y="414.40" font-size="9.9" text-anchor="end" fill="#000" font-weight="normal" font-family="Liberation Sans" dominant-baseline="central" stroke="#000" stroke-width="0.25">0.18</text>
<text x="18.80" y="514.40" font-size="9.9" text-anchor="middle" fill="#000" font-weight="normal" font-family="Liberation Sans" dominant-baseline="central" stroke="#000" stroke-width="0.25" transform="rotate(-90 18.80 514.40)">RMSE (Cross−Validation)</text>
<text x="203.00" y="680.40" font-size="9.9" text-anchor="middle" fill="#000" font-weight="normal" font-family="Liberation Sans" dominant-baseline="central" stroke="#000" stroke-width="0.25">Variables</text>
<polyline points="71.15,404.50 78.90,399.20 86.65,424.30 94.40,427.50 102.15,426.30 109.90,461.30 117.65,489.10 125.40,495.90 133.15,479.00 140.90,486.70 148.65,498.30 156.40,491.50 164.15,548.60 171.90,605.70 179.65,624.50 187.40,613.20 195.15,627.35 202.90,629.60 210.65,623.80 218.40,612.90 226.15,611.70 233.90,618.00 241.65,621.50 249.40,621.50 257.15,613.40 264.90,603.10 272.65,599.00 280.40,592.50 288.15,588.00 295.90,576.90 303.65,571.10 311.40,568.30 319.15,564.80 326.90,557.20 334.65,563.20" stroke="#1c7a1c" stroke-width="1.55" fill="none" stroke-linejoin="round"/>
<circle cx="71.15" cy="404.50" r="2.4" fill="none" stroke="#2a7f2a" stroke-width="0.9"/>
<circle cx="78.90" cy="399.20" r="2.4" fill="none" stroke="#2a7f2a" stroke-width="0.9"/>
<circle cx="86.65" cy="424.30" r="2.4" fill="none" stroke="#2a7f2a" stroke-width="0.9"/>
<circle cx="94.40" cy="427.50" r="2.4" fill="none" stroke="#2a7f2a" stroke-width="0.9"/>
<circle cx="102.15" cy="426.30" r="2.4" fill="none" stroke="#2a7f2a" stroke-width="0.9"/>
<circle cx="109.90" cy="461.30" r="2.4" fill="none" stroke="#2a7f2a" stroke-width="0.9"/>
<circle cx="117.65" cy="489.10" r="2.4" fill="none" stroke="#2a7f2a" stroke-width="0.9"/>
<circle cx="125.40" cy="495.90" r="2.4" fill="none" stroke="#2a7f2a" stroke-width="0.9"/>
<circle cx="133.15" cy="479.00" r="2.4" fill="none" stroke="#2a7f2a" stroke-width="0.9"/>
<circle cx="140.90" cy="486.70" r="2.4" fill="none" stroke="#2a7f2a" stroke-width="0.9"/>
<circle cx="148.65" cy="498.30" r="2.4" fill="none" stroke="#2a7f2a" stroke-width="0.9"/>
<circle cx="156.40" cy="491.50" r="2.4" fill="none" stroke="#2a7f2a" stroke-width="0.9"/>
<circle cx="164.15" cy="548.60" r="2.4" fill="none" stroke="#2a7f2a" stroke-width="0.9"/>
<circle cx="171.90" cy="605.70" r="2.4" fill="none" stroke="#2a7f2a" stroke-width="0.9"/>
<circle cx="179.65" cy="624.50" r="2.4" fill="none" stroke="#2a7f2a" stroke-width="0.9"/>
<circle cx="187.40" cy="613.20" r="2.4" fill="none" stroke="#2a7f2a" stroke-width="0.9"/>
<circle cx="195.15" cy="627.35" r="2.4" fill="none" stroke="#2a7f2a" stroke-width="0.9"/>
<circle cx="210.65" cy="623.80" r="2.4" fill="none" stroke="#2a7f2a" stroke-width="0.9"/>
<circle cx="218.40" cy="612.90" r="2.4" fill="none" stroke="#2a7f2a" stroke-width="0.9"/>
<circle cx="226.15" cy="611.70" r="2.4" fill="none" stroke="#2a7f2a" stroke-width="0.9"/>
<circle cx="233.90" cy="618.00" r="2.4" fill="none" stroke="#2a7f2a" stroke-width="0.9"/>
<circle cx="241.65" cy="621.50" r="2.4" fill="none" stroke="#2a7f2a" stroke-width="0.9"/>
<circle cx="249.40" cy="621.50" r="2.4" fill="none" stroke="#2a7f2a" stroke-width="0.9"/>
<circle cx="257.15" cy="613.40" r="2.4" fill="none" stroke="#2a7f2a" stroke-width="0.9"/>
<circle cx="264.90" cy="603.10" r="2.4" fill="none" stroke="#2a7f2a" stroke-width="0.9"/>
<circle cx="272.65" cy="599.00" r="2.4" fill="none" stroke="#2a7f2a" stroke-width="0.9"/>
<circle cx="280.40" cy="592.50" r="2.4" fill="none" stroke="#2a7f2a" stroke-width="0.9"/>
<circle cx="288.15" cy="588.00" r="2.4" fill="none" stroke="#2a7f2a" stroke-width="0.9"/>
<circle cx="295.90" cy="576.90" r="2.4" fill="none" stroke="#2a7f2a" stroke-width="0.9"/>
<circle cx="303.65" cy="571.10" r="2.4" fill="none" stroke="#2a7f2a" stroke-width="0.9"/>
<circle cx="311.40" cy="568.30" r="2.4" fill="none" stroke="#2a7f2a" stroke-width="0.9"/>
<circle cx="319.15" cy="564.80" r="2.4" fill="none" stroke="#2a7f2a" stroke-width="0.9"/>
<circle cx="326.90" cy="557.20" r="2.4" fill="none" stroke="#2a7f2a" stroke-width="0.9"/>
<circle cx="334.65" cy="563.20" r="2.4" fill="none" stroke="#2a7f2a" stroke-width="0.9"/>
<circle cx="202.90" cy="629.60" r="2.1" fill="#ff0000"/>
<text x="196.80" y="628.80" font-size="9.6" text-anchor="end" fill="#DF536B" font-weight="normal" font-family="Liberation Sans" dominant-baseline="central" stroke="#DF536B" stroke-width="0.25">N=19</text>
<text transform="translate(402.60 365.10) scale(1.0 1)" font-size="21" font-weight="bold" font-family="Liberation Serif" fill="#000">D</text>
<circle cx="530.0" cy="524.4" r="95.4" fill="#E2AAA5" stroke="none"/>
<circle cx="624.6" cy="524.4" r="95.4" fill="#9BC8E2" stroke="none"/>
<clipPath id="cl"><circle cx="530.0" cy="524.4" r="95.4"/></clipPath>
<circle cx="624.6" cy="524.4" r="95.4" fill="#8796AA" clip-path="url(#cl)"/>
<circle cx="530.0" cy="524.4" r="95.4" fill="none" stroke="#2b2b2b" stroke-width="1.8"/>
<circle cx="624.6" cy="524.4" r="95.4" fill="none" stroke="#1f2f3f" stroke-width="1.8"/>
<text x="493.60" y="418.00" font-size="12.6" text-anchor="middle" fill="#222" font-weight="normal" font-family="Liberation Sans" dominant-baseline="central" stroke="#222" stroke-width="0.25">LASSO</text>
<text x="657.40" y="417.80" font-size="12.6" text-anchor="middle" fill="#222" font-weight="normal" font-family="Liberation Sans" dominant-baseline="central" stroke="#222" stroke-width="0.25">SVM−REF</text>
<text x="499.60" y="524.60" font-size="11.8" text-anchor="middle" fill="#2a2a2a" font-weight="bold" font-family="Liberation Sans" dominant-baseline="central">10</text>
<text x="577.20" y="524.60" font-size="11.8" text-anchor="middle" fill="#2a2a2a" font-weight="bold" font-family="Liberation Sans" dominant-baseline="central">9</text>
<text x="655.30" y="524.60" font-size="11.8" text-anchor="middle" fill="#2a2a2a" font-weight="bold" font-family="Liberation Sans" dominant-baseline="central">10</text>
<text transform="translate(6.30 711.70) scale(1.0 1)" font-size="21" font-weight="bold" font-family="Liberation Serif" fill="#000">E</text>
<path d="M324.10 742.20V995.10M80.70 985.90H333.40M300.65 742.20V995.10M80.70 962.45H333.40M277.20 742.20V995.10M80.70 939.00H333.40M253.75 742.20V995.10M80.70 915.55H333.40M230.30 742.20V995.10M80.70 892.10H333.40M206.85 742.20V995.10M80.70 868.65H333.40M183.40 742.20V995.10M80.70 845.20H333.40M159.95 742.20V995.10M80.70 821.75H333.40M136.50 742.20V995.10M80.70 798.30H333.40M113.05 742.20V995.10M80.70 774.85H333.40M89.60 742.20V995.10M80.70 751.40H333.40" stroke="#f0f0f0" stroke-width="0.6" fill="none"/>
<polygon points="89.70,985.90 89.70,916.10 93.90,916.10 93.90,813.20 98.10,813.20 98.10,796.40 114.40,796.40 114.40,793.00 118.30,793.00 118.30,784.60 126.40,784.60 126.40,776.00 130.60,776.00 130.60,772.00 139.20,772.00 139.20,768.30 163.60,768.30 163.60,763.90 204.90,763.90 204.90,759.70 221.70,759.70 221.70,755.80 242.60,755.80 242.60,751.40 324.10,751.40 324.10,985.90 89.60,985.90" fill="#87CEEB" stroke="#4f7f92" stroke-width="0.9"/>
<line x1="80.70" y1="995.10" x2="333.40" y2="742.20" stroke="#b3b3b3" stroke-width="0.9"/>
<polyline points="89.70,985.90 89.70,916.10 93.90,916.10 93.90,813.20 98.10,813.20 98.10,796.40 114.40,796.40 114.40,793.00 118.30,793.00 118.30,784.60 126.40,784.60 126.40,776.00 130.60,776.00 130.60,772.00 139.20,772.00 139.20,768.30 163.60,768.30 163.60,763.90 204.90,763.90 204.90,759.70 221.70,759.70 221.70,755.80 242.60,755.80 242.60,751.40 324.10,751.40" stroke="#1a1a1a" stroke-width="1.6" fill="none" stroke-linejoin="round"/>
<circle cx="98.10" cy="796.40" r="1.4" fill="#000"/>
<text x="101.60" y="801.90" font-size="8.8" text-anchor="start" fill="#000" font-weight="normal" font-family="Liberation Sans" dominant-baseline="central" stroke="#000" stroke-width="0.25">−0.305 (0.965, 0.807)</text>
<text x="204.00" y="872.40" font-size="8.9" text-anchor="middle" fill="#000" font-weight="normal" font-family="Liberation Sans" dominant-baseline="central" stroke="#000" stroke-width="0.25" textLength="95.6" lengthAdjust="spacingAndGlyphs">GSE127165 - AUC: 0.936</text>
<rect x="80.70" y="742.20" width="252.70" height="252.90" stroke="#666666" stroke-width="1.2" fill="none"/>
<line x1="89.60" y1="995.10" x2="89.60" y2="1000.60" stroke="#3c3c3c" stroke-width="1"/>
<text x="89.60" y="1011.70" font-size="8.8" text-anchor="middle" fill="#000" font-weight="normal" font-family="Liberation Sans" dominant-baseline="central" stroke="#000" stroke-width="0.25">1.0</text>
<line x1="136.50" y1="995.10" x2="136.50" y2="1000.60" stroke="#3c3c3c" stroke-width="1"/>
<text x="136.50" y="1011.70" font-size="8.8" text-anchor="middle" fill="#000" font-weight="normal" font-family="Liberation Sans" dominant-baseline="central" stroke="#000" stroke-width="0.25">0.8</text>
<line x1="183.40" y1="995.10" x2="183.40" y2="1000.60" stroke="#3c3c3c" stroke-width="1"/>
<text x="183.40" y="1011.70" font-size="8.8" text-anchor="middle" fill="#000" font-weight="normal" font-family="Liberation Sans" dominant-baseline="central" stroke="#000" stroke-width="0.25">0.6</text>
<line x1="230.30" y1="995.10" x2="230.30" y2="1000.60" stroke="#3c3c3c" stroke-width="1"/>
<text x="230.30" y="1011.70" font-size="8.8" text-anchor="middle" fill="#000" font-weight="normal" font-family="Liberation Sans" dominant-baseline="central" stroke="#000" stroke-width="0.25">0.4</text>
<line x1="277.20" y1="995.10" x2="277.20" y2="1000.60" stroke="#3c3c3c" stroke-width="1"/>
<text x="277.20" y="1011.70" font-size="8.8" text-anchor="middle" fill="#000" font-weight="normal" font-family="Liberation Sans" dominant-baseline="central" stroke="#000" stroke-width="0.25">0.2</text>
<line x1="324.10" y1="995.10" x2="324.10" y2="1000.60" stroke="#3c3c3c" stroke-width="1"/>
<text x="324.10" y="1011.70" font-size="8.8" text-anchor="middle" fill="#000" font-weight="normal" font-family="Liberation Sans" dominant-baseline="central" stroke="#000" stroke-width="0.25">0.0</text>
<line x1="80.70" y1="985.90" x2="75.20" y2="985.90" stroke="#3c3c3c" stroke-width="1"/>
<text x="65.30" y="985.90" font-size="8.8" text-anchor="middle" fill="#000" font-weight="normal" font-family="Liberation Sans" dominant-baseline="central" stroke="#000" stroke-width="0.25" transform="rotate(-90 65.30 985.90)">0.0</text>
<line x1="80.70" y1="939.00" x2="75.20" y2="939.00" stroke="#3c3c3c" stroke-width="1"/>
<text x="65.30" y="939.00" font-size="8.8" text-anchor="middle" fill="#000" font-weight="normal" font-family="Liberation Sans" dominant-baseline="central" stroke="#000" stroke-width="0.25" transform="rotate(-90 65.30 939.00)">0.2</text>
<line x1="80.70" y1="892.10" x2="75.20" y2="892.10" stroke="#3c3c3c" stroke-width="1"/>
<text x="65.30" y="892.10" font-size="8.8" text-anchor="middle" fill="#000" font-weight="normal" font-family="Liberation Sans" dominant-baseline="central" stroke="#000" stroke-width="0.25" transform="rotate(-90 65.30 892.10)">0.4</text>
<line x1="80.70" y1="845.20" x2="75.20" y2="845.20" stroke="#3c3c3c" stroke-width="1"/>
<text x="65.30" y="845.20" font-size="8.8" text-anchor="middle" fill="#000" font-weight="normal" font-family="Liberation Sans" dominant-baseline="central" stroke="#000" stroke-width="0.25" transform="rotate(-90 65.30 845.20)">0.6</text>
<line x1="80.70" y1="798.30" x2="75.20" y2="798.30" stroke="#3c3c3c" stroke-width="1"/>
<text x="65.30" y="798.30" font-size="8.8" text-anchor="middle" fill="#000" font-weight="normal" font-family="Liberation Sans" dominant-baseline="central" stroke="#000" stroke-width="0.25" transform="rotate(-90 65.30 798.30)">0.8</text>
<line x1="80.70" y1="751.40" x2="75.20" y2="751.40" stroke="#3c3c3c" stroke-width="1"/>
<text x="65.30" y="751.40" font-size="8.8" text-anchor="middle" fill="#000" font-weight="normal" font-family="Liberation Sans" dominant-baseline="central" stroke="#000" stroke-width="0.25" transform="rotate(-90 65.30 751.40)">1.0</text>
<text x="49.40" y="868.80" font-size="8.8" text-anchor="middle" fill="#000" font-weight="normal" font-family="Liberation Sans" dominant-baseline="central" stroke="#000" stroke-width="0.25" transform="rotate(-90 49.40 868.80)">True positive rate</text>
<text x="207.05" y="1027.60" font-size="8.8" text-anchor="middle" fill="#000" font-weight="normal" font-family="Liberation Sans" dominant-baseline="central" stroke="#000" stroke-width="0.25">False positive rate</text>
<text transform="translate(405.80 705.70) scale(1.0 1)" font-size="21" font-weight="bold" font-family="Liberation Serif" fill="#000">F</text>
<path d="M713.00 733.00V985.90M469.60 976.70H722.30M689.55 733.00V985.90M469.60 953.25H722.30M666.10 733.00V985.90M469.60 929.80H722.30M642.65 733.00V985.90M469.60 906.35H722.30M619.20 733.00V985.90M469.60 882.90H722.30M595.75 733.00V985.90M469.60 859.45H722.30M572.30 733.00V985.90M469.60 836.00H722.30M548.85 733.00V985.90M469.60 812.55H722.30M525.40 733.00V985.90M469.60 789.10H722.30M501.95 733.00V985.90M469.60 765.65H722.30M478.50 733.00V985.90M469.60 742.20H722.30" stroke="#f0f0f0" stroke-width="0.6" fill="none"/>
<polygon points="478.60,976.70 478.60,765.00 483.70,765.00 483.70,760.10 489.10,760.10 489.10,743.60 627.00,743.60 627.00,743.00 659.50,743.00 659.50,742.50 713.10,742.50 713.00,976.70 478.50,976.70" fill="#87CEEB" stroke="#4f7f92" stroke-width="0.9"/>
<line x1="469.60" y1="985.90" x2="722.30" y2="733.00" stroke="#b3b3b3" stroke-width="0.9"/>
<polyline points="478.60,976.70 478.60,765.00 483.70,765.00 483.70,760.10 489.10,760.10 489.10,743.60 627.00,743.60 627.00,743.00 659.50,743.00 659.50,742.50 713.10,742.50" stroke="#1a1a1a" stroke-width="1.6" fill="none" stroke-linejoin="round"/>
<circle cx="489.10" cy="743.60" r="1.4" fill="#000"/>
<text x="492.60" y="749.10" font-size="8.8" text-anchor="start" fill="#000" font-weight="normal" font-family="Liberation Sans" dominant-baseline="central" stroke="#000" stroke-width="0.25">0.301 (0.955, 0.994)</text>
<text x="604.40" y="863.50" font-size="8.9" text-anchor="middle" fill="#000" font-weight="normal" font-family="Liberation Sans" dominant-baseline="central" stroke="#000" stroke-width="0.25" textLength="73.0" lengthAdjust="spacingAndGlyphs">TCGA - AUC: 0.993</text>
<rect x="469.60" y="733.00" width="252.70" height="252.90" stroke="#666666" stroke-width="1.2" fill="none"/>
<line x1="478.50" y1="985.90" x2="478.50" y2="991.40" stroke="#3c3c3c" stroke-width="1"/>
<text x="478.50" y="1002.50" font-size="8.8" text-anchor="middle" fill="#000" font-weight="normal" font-family="Liberation Sans" dominant-baseline="central" stroke="#000" stroke-width="0.25">1.0</text>
<line x1="525.40" y1="985.90" x2="525.40" y2="991.40" stroke="#3c3c3c" stroke-width="1"/>
<text x="525.40" y="1002.50" font-size="8.8" text-anchor="middle" fill="#000" font-weight="normal" font-family="Liberation Sans" dominant-baseline="central" stroke="#000" stroke-width="0.25">0.8</text>
<line x1="572.30" y1="985.90" x2="572.30" y2="991.40" stroke="#3c3c3c" stroke-width="1"/>
<text x="572.30" y="1002.50" font-size="8.8" text-anchor="middle" fill="#000" font-weight="normal" font-family="Liberation Sans" dominant-baseline="central" stroke="#000" stroke-width="0.25">0.6</text>
<line x1="619.20" y1="985.90" x2="619.20" y2="991.40" stroke="#3c3c3c" stroke-width="1"/>
<text x="619.20" y="1002.50" font-size="8.8" text-anchor="middle" fill="#000" font-weight="normal" font-family="Liberation Sans" dominant-baseline="central" stroke="#000" stroke-width="0.25">0.4</text>
<line x1="666.10" y1="985.90" x2="666.10" y2="991.40" stroke="#3c3c3c" stroke-width="1"/>
<text x="666.10" y="1002.50" font-size="8.8" text-anchor="middle" fill="#000" font-weight="normal" font-family="Liberation Sans" dominant-baseline="central" stroke="#000" stroke-width="0.25">0.2</text>
<line x1="713.00" y1="985.90" x2="713.00" y2="991.40" stroke="#3c3c3c" stroke-width="1"/>
<text x="713.00" y="1002.50" font-size="8.8" text-anchor="middle" fill="#000" font-weight="normal" font-family="Liberation Sans" dominant-baseline="central" stroke="#000" stroke-width="0.25">0.0</text>
<line x1="469.60" y1="976.70" x2="464.10" y2="976.70" stroke="#3c3c3c" stroke-width="1"/>
<text x="454.20" y="976.70" font-size="8.8" text-anchor="middle" fill="#000" font-weight="normal" font-family="Liberation Sans" dominant-baseline="central" stroke="#000" stroke-width="0.25" transform="rotate(-90 454.20 976.70)">0.0</text>
<line x1="469.60" y1="929.80" x2="464.10" y2="929.80" stroke="#3c3c3c" stroke-width="1"/>
<text x="454.20" y="929.80" font-size="8.8" text-anchor="middle" fill="#000" font-weight="normal" font-family="Liberation Sans" dominant-baseline="central" stroke="#000" stroke-width="0.25" transform="rotate(-90 454.20 929.80)">0.2</text>
<line x1="469.60" y1="882.90" x2="464.10" y2="882.90" stroke="#3c3c3c" stroke-width="1"/>
<text x="454.20" y="882.90" font-size="8.8" text-anchor="middle" fill="#000" font-weight="normal" font-family="Liberation Sans" dominant-baseline="central" stroke="#000" stroke-width="0.25" transform="rotate(-90 454.20 882.90)">0.4</text>
<line x1="469.60" y1="836.00" x2="464.10" y2="836.00" stroke="#3c3c3c" stroke-width="1"/>
<text x="454.20" y="836.00" font-size="8.8" text-anchor="middle" fill="#000" font-weight="normal" font-family="Liberation Sans" dominant-baseline="central" stroke="#000" stroke-width="0.25" transform="rotate(-90 454.20 836.00)">0.6</text>
<line x1="469.60" y1="789.10" x2="464.10" y2="789.10" stroke="#3c3c3c" stroke-width="1"/>
<text x="454.20" y="789.10" font-size="8.8" text-anchor="middle" fill="#000" font-weight="normal" font-family="Liberation Sans" dominant-baseline="central" stroke="#000" stroke-width="0.25" transform="rotate(-90 454.20 789.10)">0.8</text>
<line x1="469.60" y1="742.20" x2="464.10" y2="742.20" stroke="#3c3c3c" stroke-width="1"/>
<text x="454.20" y="742.20" font-size="8.8" text-anchor="middle" fill="#000" font-weight="normal" font-family="Liberation Sans" dominant-baseline="central" stroke="#000" stroke-width="0.25" transform="rotate(-90 454.20 742.20)">1.0</text>
<text x="438.50" y="860.00" font-size="8.8" text-anchor="middle" fill="#000" font-weight="normal" font-family="Liberation Sans" dominant-baseline="central" stroke="#000" stroke-width="0.25" transform="rotate(-90 438.50 860.00)">True positive rate</text>
<text x="595.95" y="1018.40" font-size="8.8" text-anchor="middle" fill="#000" font-weight="normal" font-family="Liberation Sans" dominant-baseline="central" stroke="#000" stroke-width="0.25">False positive rate</text>
</svg>
</body></html>
